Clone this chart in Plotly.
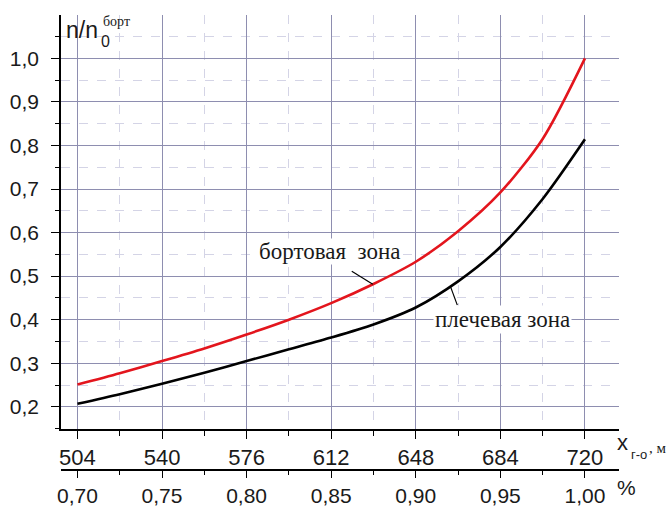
import numpy as np
import plotly.graph_objects as go

# ---- data ----
x_m = [504, 522, 540, 558, 576, 594, 612, 630, 648, 666, 684, 702, 720]
bort = [0.251, 0.277, 0.305, 0.334, 0.366, 0.400, 0.438, 0.482, 0.533, 0.603, 0.692, 0.815, 1.000]
plech = [0.207, 0.229, 0.253, 0.278, 0.305, 0.332, 0.359, 0.389, 0.428, 0.488, 0.567, 0.677, 0.814]
pct_ticks = [0.70, 0.75, 0.80, 0.85, 0.90, 0.95, 1.00]
x_full = 720.0

label_bort = "бортовая\u00a0 зона"
label_plech = "плечевая зона"

# ---- layout geometry (pixels) ----
W_FIG, H_FIG = 670, 507
L, R, T, B = 61, 619, 15, 470      # paper area (B = second axis line)
PLOT_BOTTOM = 429
PW, PH = R - L, B - T

def pxx(xp):
    return (xp - L) / PW

def pxy(yp):
    return (B - yp) / PH

xr = [497.0, 734.5]
yr = [0.149, 1.0995]

SANS = "Liberation Sans, Arial, sans-serif"
SERIF = "Liberation Serif, Times New Roman, serif"
MAJ = "#8e8eb0"
MIN = "#d4d4e6"
TXT = "#1a1a1a"

fig = go.Figure()
fig.add_trace(go.Scatter(x=x_m, y=bort, mode="lines", line=dict(color="#e3151d", width=2.6, shape="spline", smoothing=0.8),
                         showlegend=False, hoverinfo="x+y"))
fig.add_trace(go.Scatter(x=x_m, y=plech, mode="lines", line=dict(color="#000000", width=2.6, shape="spline", smoothing=0.8),
                         showlegend=False, hoverinfo="x+y"))
# invisible trace bound to the percent axis
fig.add_trace(go.Scatter(x=pct_ticks, y=[None] * len(pct_ticks), xaxis="x2", yaxis="y",
                         mode="lines", showlegend=False, hoverinfo="skip"))

# leader lines (anchored on the curves)
xb = 629.7
yb = float(np.interp(xb, x_m, bort))
xp_ = 662.7
yp_ = float(np.interp(xp_, x_m, plech))
fig.add_shape(type="line", xref="x", yref="y", xsizemode="pixel", ysizemode="pixel",
              xanchor=xb, yanchor=yb, x0=-21, y0=13, x1=0, y1=0,
              line=dict(color="black", width=1.2))
fig.add_shape(type="line", xref="x", yref="y", xsizemode="pixel", ysizemode="pixel",
              xanchor=xp_, yanchor=yp_, x0=7, y0=-19, x1=0, y1=0,
              line=dict(color="black", width=1.2))

ann = []
ann.append(dict(x=611.4, y=0.556, xref="x", yref="y", text=label_bort, showarrow=False,
                font=dict(family=SERIF, size=23, color=TXT), bgcolor="white",
                xanchor="center", yanchor="middle", borderpad=0))
ann.append(dict(x=685.0, y=0.401, xref="x", yref="y", text=label_plech, showarrow=False,
                font=dict(family=SERIF, size=23, color=TXT), bgcolor="white",
                xanchor="center", yanchor="middle", borderpad=1))
# y-axis title  n/n0^борт
ann.append(dict(x=pxx(64), y=pxy(30), xref="paper", yref="paper", text="n/n", showarrow=False,
                font=dict(family=SANS, size=23, color=TXT), xanchor="left", yanchor="middle"))
ann.append(dict(x=pxx(99), y=pxy(41), xref="paper", yref="paper", text="0", showarrow=False,
                font=dict(family=SANS, size=16, color=TXT), xanchor="left", yanchor="middle"))
ann.append(dict(x=pxx(101), y=pxy(22), xref="paper", yref="paper", text="борт", showarrow=False,
                font=dict(family=SERIF, size=14, color=TXT), xanchor="left", yanchor="middle"))
# x-axis title  x_г-о, м
ann.append(dict(x=pxx(615), y=pxy(442), xref="paper", yref="paper", text="x", showarrow=False,
                font=dict(family=SANS, size=22, color=TXT), xanchor="left", yanchor="middle"))
ann.append(dict(x=pxx(629), y=pxy(454), xref="paper", yref="paper", text="г-о", showarrow=False,
                font=dict(family=SANS, size=13, color=TXT), xanchor="left", yanchor="middle"))
ann.append(dict(x=pxx(647), y=pxy(448), xref="paper", yref="paper", text=", м", showarrow=False,
                font=dict(family=SERIF, size=15, color=TXT), xanchor="left", yanchor="middle"))
ann.append(dict(x=pxx(615), y=pxy(487), xref="paper", yref="paper", text="%", showarrow=False,
                font=dict(family=SANS, size=21, color=TXT), xanchor="left", yanchor="middle"))

fig.update_layout(
    width=W_FIG, height=H_FIG,
    margin=dict(l=L, r=W_FIG - R, t=T, b=H_FIG - B, pad=0, autoexpand=False),
    paper_bgcolor="white", plot_bgcolor="white",
    separators=", ",
    showlegend=False,
    annotations=ann,
    xaxis=dict(domain=[0, 1], anchor="y", range=xr, tick0=504, dtick=36, automargin=False,
               ticks="outside", ticklen=8, tickwidth=1.3, tickcolor="black",
               showline=True, linecolor="black", linewidth=1.5, mirror=False,
               showgrid=True, gridcolor=MAJ, gridwidth=1, zeroline=False,
               tickfont=dict(family=SANS, size=22, color=TXT),
               minor=dict(tick0=504, dtick=18, ticks="outside", ticklen=5, tickwidth=1.2,
                          tickcolor="black", showgrid=True, gridcolor=MIN, gridwidth=1,
                          griddash="dash")),
    xaxis2=dict(overlaying="x", anchor="free", position=0, side="bottom", automargin=False,
                range=[xr[0] / x_full, xr[1] / x_full],
                tick0=0.70, dtick=0.05, tickformat=".2f",
                ticks="outside", ticklen=7, tickwidth=1.3, tickcolor="black",
                showline=True, linecolor="black", linewidth=1.5,
                showgrid=False, zeroline=False,
                tickfont=dict(family=SANS, size=21, color=TXT),
                minor=dict(tick0=0.70, dtick=0.025, ticks="outside", ticklen=4, tickwidth=1.2,
                           tickcolor="black", showgrid=False)),
    yaxis=dict(domain=[(B - PLOT_BOTTOM) / PH, 1], range=yr, tick0=0, dtick=0.1, tickformat=".1f",
               automargin=False,
               ticks="outside", ticklen=8, tickwidth=1.3, tickcolor="black",
               showline=True, linecolor="black", linewidth=1.5, mirror=False,
               showgrid=True, gridcolor=MAJ, gridwidth=1, zeroline=False,
               ticklabelstandoff=8,
               tickfont=dict(family=SANS, size=21, color=TXT),
               minor=dict(tick0=0, dtick=0.05, ticks="outside", ticklen=4, tickwidth=1.2,
                          tickcolor="black", showgrid=True, gridcolor=MIN, gridwidth=1,
                          griddash="dash")),
)

fig.write_html("out.html", config={"displayModeBar": False},
               post_script="document.body.style.margin='0';document.body.style.overflow='hidden';")
